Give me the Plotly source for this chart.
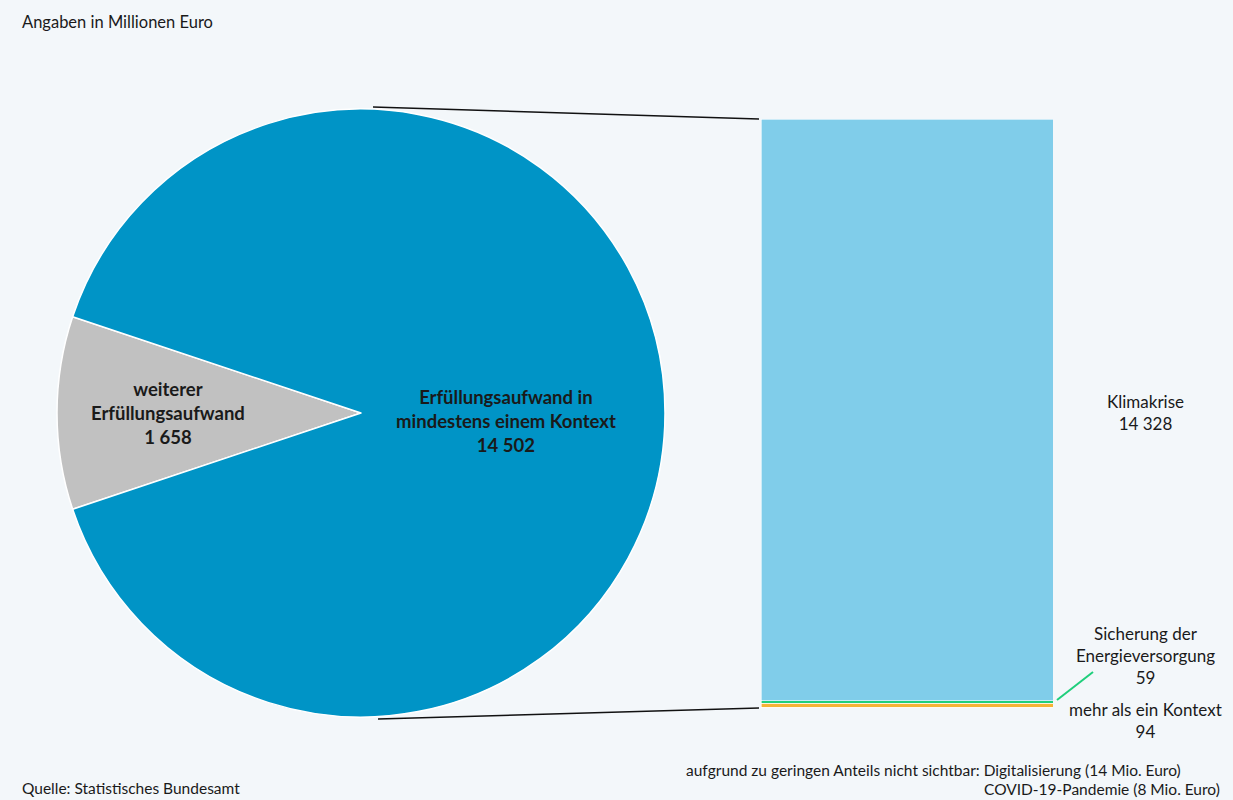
import plotly.graph_objects as go

# ---- data ----
pie_labels = ["weiterer Erfüllungsaufwand", "Erfüllungsaufwand in mindestens einem Kontext"]
pie_values = [1658, 14502]
pie_colors = ["#c1c1c1", "#0094c6"]

bar_labels = ["COVID-19-Pandemie", "Digitalisierung", "mehr als ein Kontext",
              "Sicherung der Energieversorgung", "Klimakrise"]
bar_values = [8, 14, 94, 59, 14328]
bar_colors = ["#f5b335", "#f5b335", "#f5b335", "#1fcf7c", "#80cdea"]

W, H = 1233, 800
BG = "#f3f7fa"
FONT = "Lato, 'Open Sans', sans-serif"
TXT = "#1a1a1a"

# pie geometry (pixels)
pie_cx, pie_cy, pie_r = 361, 413, 304
pie_dom_x = [(pie_cx - pie_r) / W, (pie_cx + pie_r) / W]
pie_dom_y = [1 - (pie_cy + pie_r) / H, 1 - (pie_cy - pie_r) / H]

# bar geometry (pixels)
bar_left, bar_right, bar_top, bar_bottom = 761, 1053, 119, 708
bar_dom_x = [bar_left / W, bar_right / W]
bar_dom_y = [1 - bar_bottom / H, 1 - bar_top / H]
total = sum(bar_values)

grey_angle = 360 * pie_values[0] / sum(pie_values)

fig = go.Figure()
fig.add_trace(go.Pie(
    labels=pie_labels, values=pie_values, sort=False, direction="clockwise",
    rotation=270 - grey_angle / 2,
    marker=dict(colors=pie_colors, line=dict(color="white", width=1.5)),
    textinfo="none", showlegend=False,
    domain=dict(x=pie_dom_x, y=pie_dom_y),
))

for lab, val, col in zip(bar_labels, bar_values, bar_colors):
    fig.add_trace(go.Bar(
        x=[0], y=[val], name=lab, width=1,
        marker=dict(color=col, line=dict(color="white", width=0.6)),
        showlegend=False, xaxis="x", yaxis="y",
    ))

fig.update_layout(
    width=W, height=H, barmode="stack",
    paper_bgcolor=BG, plot_bgcolor=BG,
    margin=dict(l=0, r=0, t=0, b=0),
    font=dict(family=FONT, color=TXT, size=16),
    xaxis=dict(domain=bar_dom_x, range=[-0.5, 0.5], visible=False, fixedrange=True),
    yaxis=dict(domain=bar_dom_y, range=[0, total], visible=False, fixedrange=True),
)

def px(x):
    return x / W

def py(y):
    return 1 - y / H

# connector lines
fig.add_shape(type="line", xref="paper", yref="paper",
              x0=px(pie_cx + 12), y0=py(pie_cy - pie_r - 2), x1=px(bar_left - 2), y1=py(bar_top),
              line=dict(color="#111111", width=1.5))
fig.add_shape(type="line", xref="paper", yref="paper",
              x0=px(pie_cx + 17), y0=py(pie_cy + pie_r + 2), x1=px(bar_left - 2), y1=py(bar_bottom),
              line=dict(color="#111111", width=1.5))
# green leader
fig.add_shape(type="line", xref="paper", yref="paper",
              x0=px(1057), y0=py(700), x1=px(1093), y1=py(672),
              line=dict(color="#1fcf7c", width=2))

ann = []
ann.append(dict(text="Angaben in Millionen Euro", x=px(20), y=py(22), xanchor="left", yanchor="middle",
                font=dict(size=16.5)))
ann.append(dict(text="<b>weiterer<br>Erfüllungsaufwand<br>%s</b>" % f"{pie_values[0]:,}".replace(",", " "),
                x=px(168), y=py(413), xanchor="center", yanchor="middle", font=dict(size=18.5)))
ann.append(dict(text="<b>Erfüllungsaufwand in<br>mindestens einem Kontext<br>%s</b>" % f"{pie_values[1]:,}".replace(",", " "),
                x=px(506), y=py(421), xanchor="center", yanchor="middle", font=dict(size=18.5)))
ann.append(dict(text="Klimakrise<br>%s" % f"{bar_values[4]:,}".replace(",", " "),
                x=px(1145), y=py(412), xanchor="center", yanchor="middle", font=dict(size=17)))
ann.append(dict(text="Sicherung der<br>Energieversorgung<br>%d" % bar_values[3],
                x=px(1145), y=py(655), xanchor="center", yanchor="middle", font=dict(size=17)))
ann.append(dict(text="mehr als ein Kontext<br>%d" % bar_values[2],
                x=px(1145), y=py(720), xanchor="center", yanchor="middle", font=dict(size=17)))
ann.append(dict(text="Quelle: Statistisches Bundesamt", x=px(20), y=py(788), xanchor="left", yanchor="middle",
                font=dict(size=15.5)))
ann.append(dict(text="aufgrund zu geringen Anteils nicht sichtbar: Digitalisierung (%d Mio. Euro)" % bar_values[1],
                x=px(1183), y=py(770), xanchor="right", yanchor="middle", font=dict(size=15.5)))
ann.append(dict(text="COVID-19-Pandemie (%d Mio. Euro)" % bar_values[0],
                x=px(1222), y=py(789), xanchor="right", yanchor="middle", font=dict(size=15.5)))
for a in ann:
    a.update(xref="paper", yref="paper", showarrow=False)
fig.update_layout(annotations=ann)

fig.write_html("out.html", config={"displayModeBar": False},
               post_script="document.body.style.margin='0';document.body.style.overflow='hidden';")
